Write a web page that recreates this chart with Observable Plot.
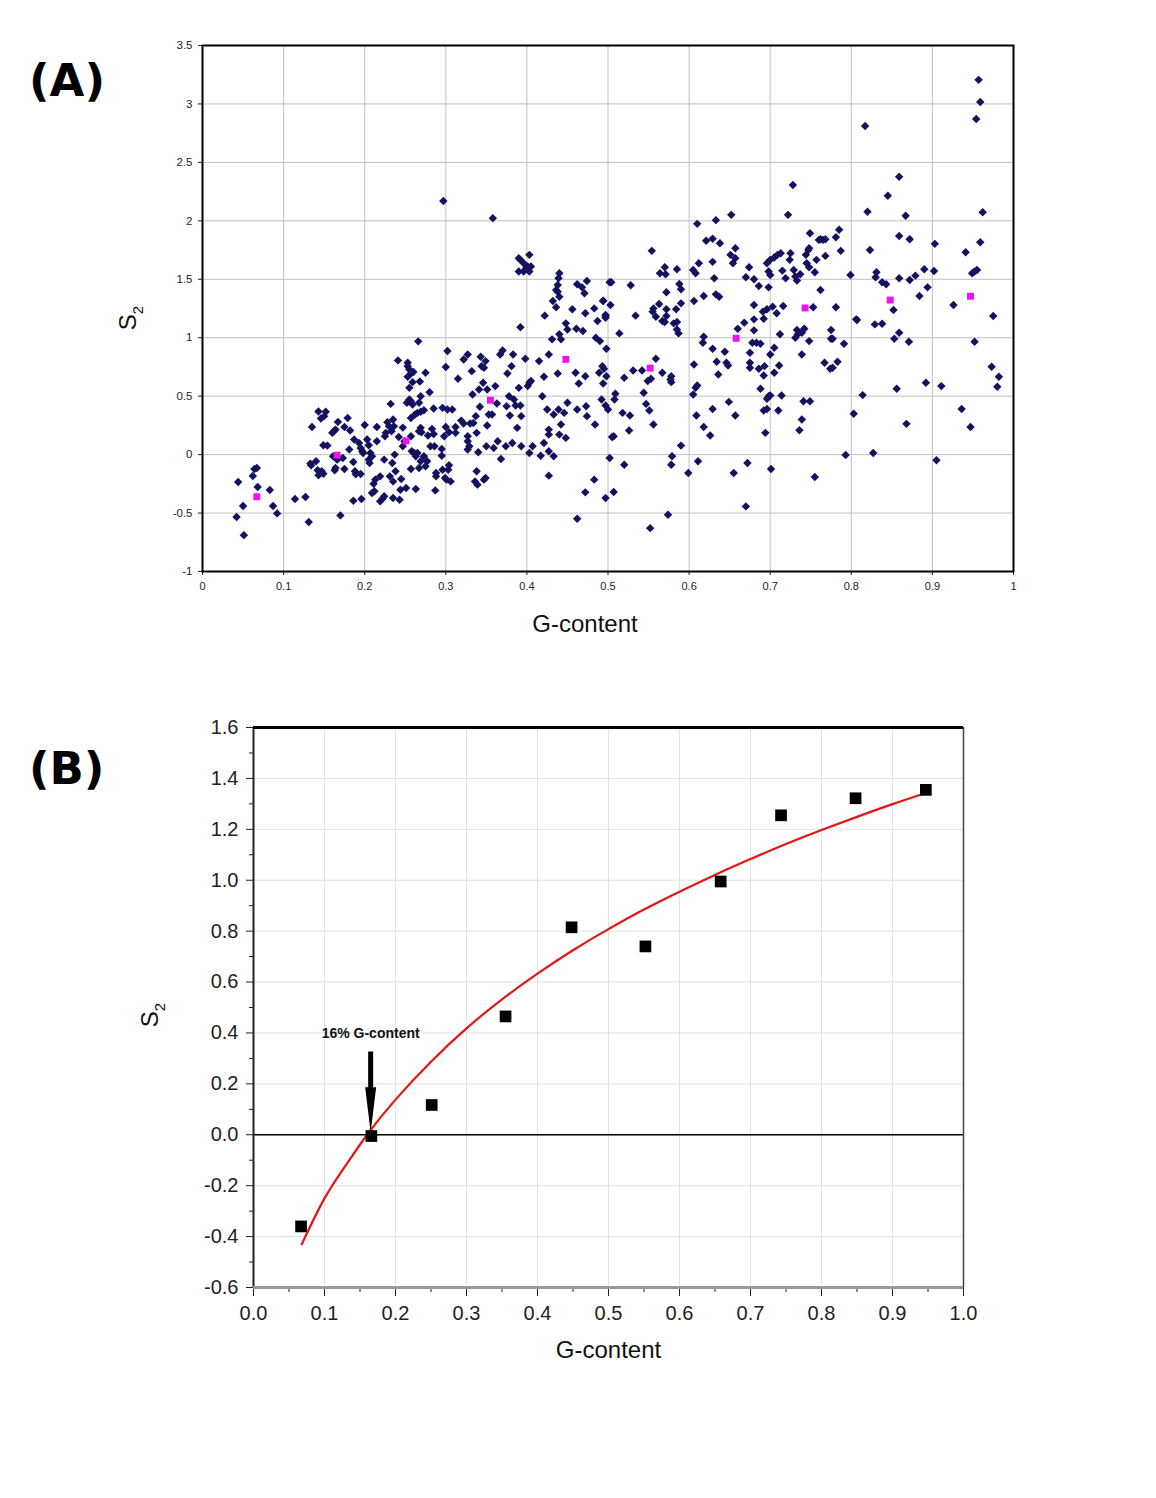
<!DOCTYPE html>
<html><head><meta charset="utf-8">
<script src="https://cdn.jsdelivr.net/npm/d3@7"></script>
<script src="https://cdn.jsdelivr.net/npm/@observablehq/plot@0.6"></script>
<style>
body{margin:0;background:#fff;width:1156px;height:1498px;position:relative;overflow:hidden;font-family:"Liberation Sans",Arial,sans-serif;}
.panel{position:absolute;left:0;}
.tag{position:absolute;font-family:"DejaVu Sans",sans-serif;font-weight:bold;font-size:45px;color:#000;line-height:1;}
</style></head><body>
<div id="a" class="panel" style="top:0"></div>
<div id="b" class="panel" style="top:680px"></div>
<div class="tag" style="left:29px;top:58px">(A)</div>
<div class="tag" style="left:29px;top:746px">(B)</div>
<script>
// ---- Panel A: individual sequences (G-content, S2) ----
const scatterA = [
[0.044,-0.234],[0.042,-0.534],[0.050,-0.44],[0.051,-0.689],[0.062,-0.183],[0.064,-0.123],[0.067,-0.114],[0.068,-0.277],[0.083,-0.303],[0.087,-0.44],[0.092,-0.503],
[0.114,-0.38],[0.127,-0.363],[0.131,-0.577],[0.135,0.237],[0.143,0.369],[0.146,0.309],[0.152,0.366],[0.150,0.329],[0.149,0.08],[0.154,0.077],[0.133,-0.077],[0.134,-0.091],[0.140,-0.057],[0.142,-0.134],[0.143,-0.177],[0.147,-0.143],[0.149,-0.163],[0.160,0.186],[0.162,0.2],[0.164,0.214],[0.167,0.28],[0.179,0.314],[0.161,-0.014],[0.164,-0.114],[0.166,-0.043],[0.168,-0.029],[0.173,-0.029],[0.175,-0.123],[0.163,-0.134],[0.170,-0.52],[0.175,0.237],[0.182,0.206],[0.181,0.043],[0.186,-0.063],[0.186,-0.394],[0.188,-0.143],[0.189,-0.169],[0.195,-0.166],[0.196,-0.38],[0.187,0.129],[0.193,0.1],[0.195,0.057],[0.197,0.029],[0.198,0.014],[0.200,0.254],[0.203,0.129],[0.205,0.08],[0.207,0.014],[0.205,-0.043],[0.206,-0.071],[0.209,-0.014],[0.211,-0.249],[0.212,-0.314],[0.209,-0.329],[0.213,-0.214],[0.215,0.237],[0.215,0.114],[0.219,-0.186],[0.219,-0.4],[0.222,-0.377],[0.224,-0.357],[0.224,-0.043],[0.225,0.157],[0.226,0.186],[0.228,0.277],[0.230,0.243],[0.231,-0.186],[0.232,0.434],[0.233,0.2],[0.235,0.3],[0.236,0.243],[0.234,-0.071],[0.235,-0.229],[0.235,-0.371],[0.237,0.0],[0.238,-0.143],[0.241,0.806],[0.242,0.151],[0.243,-0.386],[0.244,-0.3],[0.245,-0.209],[0.247,0.231],[0.247,0.071],[0.249,0.114],[0.251,-0.286],[0.253,0.786],[0.253,0.757],[0.255,0.729],[0.253,0.666],[0.255,0.571],[0.257,0.694],[0.259,0.62],[0.255,0.471],[0.257,0.457],[0.252,0.443],[0.259,0.429],[0.260,0.706],[0.266,0.969],[0.268,0.626],[0.269,0.5],[0.267,0.443],[0.257,0.314],[0.262,0.343],[0.265,0.357],[0.269,0.366],[0.273,0.38],[0.275,0.7],[0.280,0.534],[0.285,0.394],[0.296,0.4],[0.302,0.386],[0.308,0.386],[0.257,0.157],[0.258,0.029],[0.261,0.014],[0.263,-0.014],[0.265,0.014],[0.267,0.2],[0.269,0.229],[0.270,0.191],[0.273,-0.014],[0.277,-0.057],[0.275,-0.1],[0.269,-0.057],[0.267,-0.114],[0.263,-0.294],[0.257,-0.123],[0.278,0.163],[0.281,0.071],[0.283,0.22],[0.285,0.177],[0.286,0.071],[0.288,-0.157],[0.287,-0.306],[0.288,-0.186],[0.295,0.049],[0.295,-0.009],[0.296,-0.129],[0.298,0.157],[0.299,-0.2],[0.300,0.237],[0.301,-0.214],[0.302,0.886],[0.300,0.749],[0.303,-0.129],[0.304,-0.091],[0.306,-0.229],[0.304,0.191],[0.312,0.237],[0.312,0.186],[0.315,0.649],[0.319,0.291],[0.322,0.814],[0.327,0.857],[0.322,0.266],[0.327,0.157],[0.327,0.114],[0.327,0.043],[0.329,0.071],[0.330,0.266],[0.332,0.714],[0.333,0.514],[0.334,0.271],[0.337,0.329],[0.338,0.186],[0.338,-0.143],[0.336,-0.229],[0.339,-0.257],[0.340,0.02],[0.341,0.557],[0.343,0.837],[0.342,0.409],[0.344,0.757],[0.346,0.614],[0.347,0.743],[0.349,0.8],[0.350,0.071],[0.347,-0.214],[0.349,-0.2],[0.351,0.557],[0.351,0.249],[0.353,0.343],[0.357,0.343],[0.359,0.057],[0.361,0.586],[0.363,0.437],[0.364,0.114],[0.367,0.857],[0.368,-0.037],[0.370,0.891],[0.374,0.071],[0.375,0.414],[0.376,0.694],[0.378,0.5],[0.379,0.334],[0.381,0.757],[0.382,0.1],[0.383,0.857],[0.384,0.471],[0.386,0.42],[0.388,0.229],[0.390,0.571],[0.392,0.42],[0.393,0.071],[0.393,0.329],[0.392,1.089],[0.398,0.82],[0.401,0.586],[0.403,0.614],[0.405,0.629],[0.403,0.014],[0.407,0.071],[0.415,0.8],[0.417,-0.009],[0.419,0.5],[0.421,0.666],[0.421,0.1],[0.425,0.386],[0.427,0.857],[0.427,0.214],[0.427,0.171],[0.427,0.029],[0.427,-0.18],[0.431,0.986],[0.433,0.343],[0.433,-0.014],[0.438,0.694],[0.439,0.386],[0.440,0.171],[0.440,1.029],[0.442,0.986],[0.442,0.257],[0.446,0.357],[0.448,0.143],[0.448,1.123],[0.450,1.071],[0.450,0.443],[0.460,0.7],[0.461,1.077],[0.462,0.386],[0.462,-0.549],[0.464,0.609],[0.469,1.057],[0.472,-0.323],[0.472,0.671],[0.473,0.414],[0.474,0.329],[0.483,-0.214],[0.484,0.257],[0.485,1.0],[0.487,1.143],[0.489,0.7],[0.490,0.971],[0.492,0.471],[0.493,0.757],[0.495,0.734],[0.497,-0.371],[0.498,0.906],[0.498,0.671],[0.500,0.386],
[0.497,1.171],[0.494,0.609],[0.497,0.42],[0.508,0.471],[0.509,0.52],[0.502,-0.029],[0.507,0.157],[0.505,0.151],[0.520,-0.086],[0.520,0.657],[0.518,0.357],[0.527,0.334],[0.526,0.206],[0.507,-0.32],[0.531,0.72],[0.542,0.72],[0.544,0.529],[0.547,0.434],[0.551,0.377],[0.549,0.629],[0.553,0.649],[0.556,0.257],[0.559,0.82],[0.567,0.7],[0.552,-0.629],[0.514,1.037],[0.567,1.143],[0.570,1.134],[0.581,1.123],[0.585,1.134],[0.585,1.071],[0.587,1.037],[0.578,0.671],[0.578,0.62],[0.577,0.643],[0.590,0.077],[0.579,-0.014],[0.578,-0.086],[0.574,-0.514],[0.599,-0.157],[0.605,0.514],[0.606,0.771],[0.608,0.571],[0.610,0.591],[0.611,-0.057],[0.609,0.334],[0.617,0.957],[0.618,1.009],[0.618,0.237],[0.626,0.163],[0.629,0.906],[0.629,0.391],[0.634,0.794],[0.636,0.686],[0.644,0.88],[0.646,0.786],[0.648,0.763],[0.649,0.451],[0.655,-0.157],[0.657,0.334],[0.660,1.077],[0.668,1.129],[0.672,-0.071],[0.670,-0.443],[0.675,0.871],[0.675,0.786],[0.675,0.743],[0.678,0.957],[0.680,1.063],[0.683,0.957],[0.686,0.734],[0.688,0.563],[0.688,0.949],[0.692,0.677],[0.693,0.757],[0.694,0.186],[0.692,0.377],[0.696,0.391],[0.698,0.5],[0.696,0.477],[0.700,0.506],[0.700,0.857],[0.701,-0.123],[0.705,0.914],[0.705,0.7],[0.710,0.377],[0.711,0.763],[0.712,1.029],[0.714,0.506],[0.731,1.0],[0.733,1.066],[0.734,1.029],[0.739,1.043],[0.742,1.077],[0.748,0.971],[0.739,0.857],[0.741,0.457],[0.749,0.457],[0.739,0.3],[0.736,0.209],[0.755,-0.191],[0.767,0.786],[0.774,0.734],[0.777,0.743],[0.775,1.066],[0.775,0.991],[0.777,0.991],[0.783,0.794],[0.791,0.949],[0.793,-0.003],[0.803,0.349],[0.807,1.151],[0.814,0.509],[0.827,0.014],[0.829,1.114],[0.838,1.12],[0.853,0.991],[0.856,0.563],[0.859,1.043],[0.868,0.263],[0.871,0.966],[0.892,0.614],[0.905,-0.049],[0.911,0.586],[0.936,0.391],[0.947,0.237],[0.952,0.966],[0.973,0.751],[0.982,0.666],[0.980,0.58],[0.692,1.163],
[0.957,3.206],[0.959,3.017],[0.954,2.871],[0.817,2.811],[0.859,2.377],[0.845,2.214],[0.728,2.306],[0.722,2.051],[0.652,2.051],[0.820,2.077],[0.867,2.043],[0.962,2.074],[0.610,1.974],[0.633,2.006],[0.621,1.829],[0.629,1.846],[0.638,1.809],[0.657,1.766],[0.651,1.709],[0.657,1.68],[0.654,1.637],[0.554,1.743],[0.570,1.603],[0.564,1.551],[0.571,1.543],[0.585,1.586],[0.612,1.637],[0.605,1.58],[0.608,1.551],[0.629,1.649],[0.631,1.509],[0.674,1.603],[0.670,1.517],[0.680,1.5],[0.686,1.443],[0.698,1.431],[0.680,1.28],[0.696,1.637],[0.700,1.666],[0.705,1.686],[0.709,1.709],[0.713,1.723],[0.698,1.566],[0.700,1.537],[0.715,1.574],[0.724,1.666],[0.725,1.723],[0.729,1.58],[0.731,1.523],[0.733,1.489],[0.737,1.543],[0.719,1.509],[0.744,1.709],[0.747,1.751],[0.748,1.766],[0.749,1.894],[0.745,1.637],[0.748,1.603],[0.755,1.56],[0.757,1.666],[0.762,1.843],[0.765,1.837],[0.768,1.843],[0.760,1.837],[0.768,1.7],[0.762,1.409],[0.781,1.86],[0.785,1.923],[0.787,1.743],[0.799,1.537],[0.823,1.751],[0.831,1.56],[0.830,1.517],[0.838,1.474],[0.843,1.457],[0.859,1.509],[0.859,1.871],[0.872,1.843],[0.872,1.494],[0.879,1.531],[0.890,1.586],[0.902,1.571],[0.903,1.803],[0.884,1.357],[0.894,1.431],[0.941,1.731],[0.949,1.551],[0.952,1.566],[0.955,1.58],[0.959,1.817],[0.926,1.28],[0.975,1.186],[0.852,1.237],[0.806,1.157],[0.781,1.26],[0.753,1.26],[0.716,1.271],[0.708,1.209],[0.703,1.266],[0.696,1.243],[0.691,1.223],[0.680,1.157],[0.633,1.371],[0.637,1.351],[0.618,1.357],[0.606,1.314],[0.590,1.294],[0.584,1.243],[0.572,1.243],[0.563,1.289],[0.556,1.251],[0.555,1.223],[0.559,1.18],[0.572,1.186],[0.572,1.389],[0.588,1.46],[0.590,1.414],[0.528,1.449],[0.504,1.474],[0.503,1.28],[0.534,1.189],[0.497,1.194],[0.494,1.317],
[0.297,2.169],[0.358,2.023],[0.390,1.68],[0.392,1.666],[0.403,1.709],[0.396,1.637],[0.401,1.609],[0.390,1.566],[0.396,1.566],[0.403,1.566],[0.405,1.609],[0.399,1.594],[0.440,1.551],[0.439,1.509],[0.438,1.451],[0.438,1.394],[0.440,1.351],[0.436,1.409],[0.432,1.314],[0.436,1.26],[0.422,1.189],[0.456,1.243],[0.462,1.457],[0.468,1.431],[0.474,1.486],[0.471,1.38],[0.472,1.209],[0.483,1.251],[0.494,1.314],[0.497,1.186],[0.502,1.474]
];
// ---- Bin means (magenta in A, black squares in B) ----
const binG  = [0.067, 0.166, 0.251, 0.355, 0.448, 0.552, 0.658, 0.743, 0.848, 0.947];
const binS2 = [-0.36, -0.005, 0.117, 0.465, 0.815, 0.74, 0.995, 1.255, 1.322, 1.355];
// ---- Fitted curve ----
const fitG  = [0.068, 0.10, 0.13, 0.16, 0.20, 0.25, 0.30, 0.35, 0.40, 0.45, 0.50, 0.55, 0.60, 0.65, 0.70, 0.75, 0.80, 0.85, 0.90, 0.95];
const fitS2 = [-0.43, -0.25, -0.12, 0.0, 0.138, 0.287, 0.418, 0.532, 0.633, 0.725, 0.808, 0.885, 0.955, 1.021, 1.083, 1.142, 1.197, 1.249, 1.299, 1.346];
// ---- Annotation ----
const annotLabel = "16% G-content";
const annotG = 0.165, annotTextS2 = 0.398, arrowFromS2 = 0.325, headBaseS2 = 0.19, arrowTipS2 = 0.01;
// ---- Ticks ----
const ticksXA = [0, 0.1, 0.2, 0.3, 0.4, 0.5, 0.6, 0.7, 0.8, 0.9, 1];
const ticksYA = [-1, -0.5, 0, 0.5, 1, 1.5, 2, 2.5, 3, 3.5];
const ticksXB = [0, 0.1, 0.2, 0.3, 0.4, 0.5, 0.6, 0.7, 0.8, 0.9, 1.0];
const minorXB = [0.05, 0.15, 0.25, 0.35, 0.45, 0.55, 0.65, 0.75, 0.85, 0.95];
const ticksYB = [-0.6, -0.4, -0.2, 0, 0.2, 0.4, 0.6, 0.8, 1.0, 1.2, 1.4, 1.6];
const minorYB = [-0.5, -0.3, -0.1, 0.1, 0.3, 0.5, 0.7, 0.9, 1.1, 1.3, 1.5];
const xTitle = "G-content";

const means = binG.map((g, i) => ({g, s: binS2[i]}));
const fit = fitG.map((g, i) => ({g, s: fitS2[i]}));
const FONT = "Liberation Sans, Arial, sans-serif";

// narrow filled arrow head (tip pointing down), drawn about the dot's centre
const headSymbol = {draw(ctx) { ctx.moveTo(-5.5, -22); ctx.lineTo(5.5, -22); ctx.lineTo(0, 23); ctx.closePath(); }};

function addS2(svg, x, y, size, sub) {
  const t = d3.select(svg).append("text")
    .attr("transform", `translate(${x},${y}) rotate(-90)`)
    .attr("text-anchor", "middle").attr("font-family", FONT)
    .attr("font-size", size).attr("fill", "#111");
  t.append("tspan").text("S");
  t.append("tspan").attr("font-size", sub).attr("dy", size * 0.28).text("2");
}

// Panel A
const chartA = Plot.plot({
  width: 1156, height: 660,
  marginLeft: 202, marginRight: 143, marginTop: 45, marginBottom: 89,
  style: {fontFamily: FONT, fontSize: "11px", color: "#222", background: "white", overflow: "visible"},
  x: {domain: [0, 1]},
  y: {domain: [-1, 3.5]},
  marks: [
    Plot.gridX(ticksXA, {stroke: "#c0c0c0", strokeOpacity: 1}),
    Plot.gridY(ticksYA, {stroke: "#c0c0c0", strokeOpacity: 1}),
    Plot.axisX(ticksXA, {tickSize: 4, tickPadding: 7, tickFormat: d => String(d), label: null, fontSize: 11}),
    Plot.axisY(ticksYA, {tickSize: 4, tickPadding: 6, tickFormat: d => String(d), label: null, fontSize: 11.5}),
    Plot.dot(scatterA, {x: d => d[0], y: d => d[1], symbol: "diamond2", r: 3.8, fill: "#12125e"}),
    Plot.dot(means, {x: "g", y: "s", symbol: "square", r: 3.9, fill: "#f010f0"}),
    Plot.frame({stroke: "black", strokeWidth: 2}),
    Plot.text([xTitle], {frameAnchor: "bottom", dx: -23, dy: 60, fontSize: 24, fill: "#111", fontFamily: FONT})
  ]
});
addS2(chartA, 136, 318, 24, 15);
document.getElementById("a").append(chartA);

// Panel B
const chartB = Plot.plot({
  width: 1156, height: 720,
  marginLeft: 253, marginRight: 193, marginTop: 47, marginBottom: 113,
  style: {fontFamily: FONT, fontSize: "20px", color: "#222", background: "white", overflow: "visible"},
  x: {domain: [0, 1]},
  y: {domain: [-0.6, 1.6]},
  marks: [
    Plot.gridX(ticksXB, {stroke: "#e2e2e2", strokeOpacity: 1}),
    Plot.gridY(ticksYB, {stroke: "#e2e2e2", strokeOpacity: 1}),
    Plot.axisX(minorXB, {tickSize: 5, tickFormat: () => "", label: null}),
    Plot.axisX(ticksXB, {tickSize: 9, tickPadding: 9, tickFormat: d => d.toFixed(1), label: null, fontSize: 20}),
    Plot.axisY(minorYB, {tickSize: 4, tickFormat: () => "", label: null}),
    Plot.axisY(ticksYB, {tickSize: 7, tickPadding: 8, tickFormat: d => d.toFixed(1), label: null, fontSize: 20}),
    Plot.ruleY([0], {stroke: "black", strokeWidth: 1.5}),
    Plot.ruleX([0], {stroke: "#222", strokeWidth: 2}),
    Plot.ruleX([1], {stroke: "#444", strokeWidth: 1.5}),
    Plot.ruleY([-0.6], {stroke: "#9a9a9a", strokeWidth: 3}),
    Plot.ruleY([1.6], {stroke: "black", strokeWidth: 3}),
    Plot.line(fit, {x: "g", y: "s", stroke: "#e31515", strokeWidth: 2.2, curve: "natural"}),
    Plot.dot(means, {x: "g", y: "s", symbol: "square", r: 6.6, fill: "black"}),
    Plot.ruleX([annotG], {y1: arrowFromS2, y2: headBaseS2 - 0.02, stroke: "black", strokeWidth: 5}),
    Plot.dot([annotG], {x: d => d, y: () => (headBaseS2 + arrowTipS2) / 2, symbol: headSymbol, fill: "black", r: 5}),
    Plot.text([annotLabel], {x: () => annotG, y: () => annotTextS2, fontWeight: "bold", fontSize: 14, fill: "#111"}),
    Plot.text([xTitle], {frameAnchor: "bottom", dx: 0, dy: 70, fontSize: 24, fill: "#111", fontFamily: FONT})
  ]
});
addS2(chartB, 158, 335, 24, 15);
document.getElementById("b").append(chartB);
</script>
</body></html>
